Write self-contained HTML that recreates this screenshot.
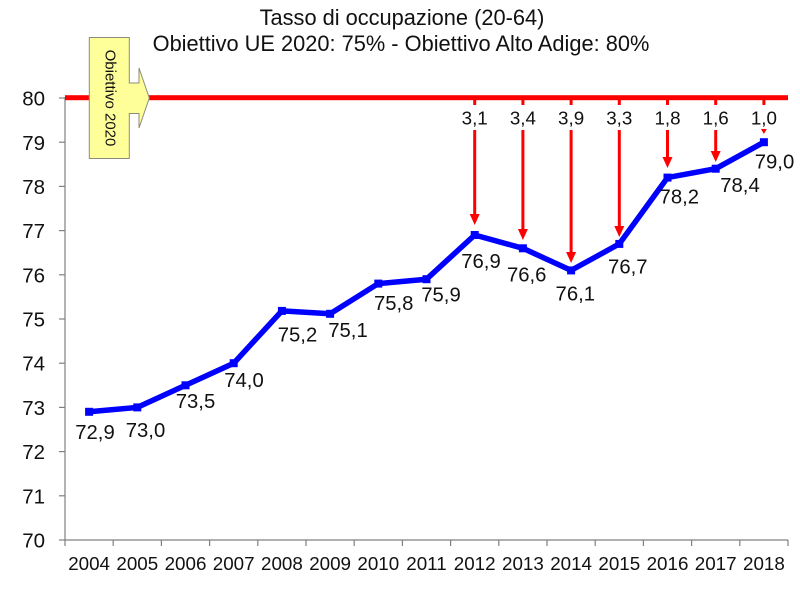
<!DOCTYPE html>
<html>
<head>
<meta charset="utf-8">
<style>
  html,body{margin:0;padding:0;background:#fff;}
  svg{display:block;}
  text{font-family:"Liberation Sans", Arial, sans-serif;fill:#111;}
</style>
</head>
<body>
<svg width="800" height="596" viewBox="0 0 800 596" xmlns="http://www.w3.org/2000/svg">
  <rect width="800" height="596" fill="#fff"/>

  <!-- Title -->
  <text x="402" y="25" font-size="21.8" text-anchor="middle">Tasso di occupazione (20-64)</text>
  <text x="401" y="51" font-size="21.8" text-anchor="middle">Obiettivo UE 2020: 75% - Obiettivo Alto Adige: 80%</text>

  <!-- Axes -->
  <g stroke="#808080" stroke-width="1.2" fill="none">
    <line x1="65" y1="97" x2="65" y2="540"/>
    <line x1="65" y1="540" x2="788" y2="540"/>
    <!-- y ticks -->
    <line x1="59" y1="540" x2="65" y2="540"/>
    <line x1="59" y1="495.8" x2="65" y2="495.8"/>
    <line x1="59" y1="451.6" x2="65" y2="451.6"/>
    <line x1="59" y1="407.4" x2="65" y2="407.4"/>
    <line x1="59" y1="363.2" x2="65" y2="363.2"/>
    <line x1="59" y1="319" x2="65" y2="319"/>
    <line x1="59" y1="274.8" x2="65" y2="274.8"/>
    <line x1="59" y1="230.6" x2="65" y2="230.6"/>
    <line x1="59" y1="186.4" x2="65" y2="186.4"/>
    <line x1="59" y1="142.2" x2="65" y2="142.2"/>
    <line x1="59" y1="98" x2="65" y2="98"/>
    <!-- x ticks -->
    <line x1="65" y1="540" x2="65" y2="546"/>
    <line x1="113.2" y1="540" x2="113.2" y2="546"/>
    <line x1="161.4" y1="540" x2="161.4" y2="546"/>
    <line x1="209.6" y1="540" x2="209.6" y2="546"/>
    <line x1="257.8" y1="540" x2="257.8" y2="546"/>
    <line x1="306" y1="540" x2="306" y2="546"/>
    <line x1="354.2" y1="540" x2="354.2" y2="546"/>
    <line x1="402.4" y1="540" x2="402.4" y2="546"/>
    <line x1="450.6" y1="540" x2="450.6" y2="546"/>
    <line x1="498.8" y1="540" x2="498.8" y2="546"/>
    <line x1="547" y1="540" x2="547" y2="546"/>
    <line x1="595.2" y1="540" x2="595.2" y2="546"/>
    <line x1="643.4" y1="540" x2="643.4" y2="546"/>
    <line x1="691.6" y1="540" x2="691.6" y2="546"/>
    <line x1="739.8" y1="540" x2="739.8" y2="546"/>
    <line x1="788" y1="540" x2="788" y2="546"/>
  </g>

  <!-- Y labels -->
  <g font-size="20.5" text-anchor="end">
    <text x="45" y="547.5">70</text>
    <text x="45" y="503.3">71</text>
    <text x="45" y="459.1">72</text>
    <text x="45" y="414.9">73</text>
    <text x="45" y="370.7">74</text>
    <text x="45" y="326.5">75</text>
    <text x="45" y="282.3">76</text>
    <text x="45" y="238.1">77</text>
    <text x="45" y="193.9">78</text>
    <text x="45" y="150.2">79</text>
    <text x="45" y="105.5">80</text>
  </g>

  <!-- X labels -->
  <g font-size="18.8" text-anchor="middle">
    <text x="89.1" y="570">2004</text>
    <text x="137.3" y="570">2005</text>
    <text x="185.5" y="570">2006</text>
    <text x="233.7" y="570">2007</text>
    <text x="281.9" y="570">2008</text>
    <text x="330.1" y="570">2009</text>
    <text x="378.3" y="570">2010</text>
    <text x="426.5" y="570">2011</text>
    <text x="474.7" y="570">2012</text>
    <text x="522.9" y="570">2013</text>
    <text x="571.1" y="570">2014</text>
    <text x="619.3" y="570">2015</text>
    <text x="667.5" y="570">2016</text>
    <text x="715.7" y="570">2017</text>
    <text x="763.9" y="570">2018</text>
  </g>

  <!-- Red target line -->
  <rect x="65" y="95.2" width="723" height="5" fill="#ff0000"/>
  <!-- red stubs -->
  <g stroke="#ff0000" stroke-width="3">
    <line x1="474.7" y1="99" x2="474.7" y2="105"/>
    <line x1="522.9" y1="99" x2="522.9" y2="105"/>
    <line x1="571.1" y1="99" x2="571.1" y2="105"/>
    <line x1="619.3" y1="99" x2="619.3" y2="105"/>
    <line x1="667.5" y1="99" x2="667.5" y2="105"/>
    <line x1="715.7" y1="99" x2="715.7" y2="105"/>
    <line x1="763.9" y1="99" x2="763.9" y2="105"/>
  </g>
  <!-- gap labels -->
  <g font-size="18.8" text-anchor="middle">
    <text x="474.7" y="124.5">3,1</text>
    <text x="522.9" y="124.5">3,4</text>
    <text x="571.1" y="124.5">3,9</text>
    <text x="619.3" y="124.5">3,3</text>
    <text x="667.5" y="124.5">1,8</text>
    <text x="715.7" y="124.5">1,6</text>
    <text x="763.9" y="124.5">1,0</text>
  </g>
  <!-- red arrows -->
  <g stroke="#ff0000" stroke-width="3">
    <line x1="474.7" y1="130" x2="474.7" y2="216"/>
    <line x1="522.9" y1="130" x2="522.9" y2="231"/>
    <line x1="571.1" y1="130" x2="571.1" y2="254"/>
    <line x1="619.3" y1="130" x2="619.3" y2="228"/>
    <line x1="667.5" y1="130" x2="667.5" y2="159"/>
    <line x1="715.7" y1="130" x2="715.7" y2="153"/>
  </g>
  <g fill="#ff0000">
    <polygon points="469.7,214 479.7,214 474.7,225"/>
    <polygon points="517.9,229 527.9,229 522.9,240"/>
    <polygon points="566.1,252 576.1,252 571.1,263"/>
    <polygon points="614.3,226 624.3,226 619.3,237"/>
    <polygon points="662.5,157 672.5,157 667.5,168"/>
    <polygon points="710.7,151 720.7,151 715.7,162"/>
    <polygon points="761,129 766.8,129 763.9,134"/>
  </g>

  <!-- Callout -->
  <polygon points="89.3,37.5 129.3,37.5 129.3,83 139,83 139,68 149.3,98 139,128 139,113.5 129.3,113.5 129.3,158.5 89.3,158.5"
           fill="#ffff99" stroke="#8c8c7a" stroke-width="1"/>
  <text x="110" y="98" font-size="15" text-anchor="middle" dominant-baseline="central" transform="rotate(90 110 98)">Obiettivo 2020</text>

  <!-- Blue series -->
  <polyline fill="none" stroke="#0000ff" stroke-width="5.5" stroke-linejoin="round"
    points="89.1,411.8 137.3,407.4 185.5,385.3 233.7,363.2 281.9,310.9 330.1,313.8 378.3,283.6 426.5,279.2 474.7,235 522.9,248.3 571.1,270.4 619.3,243.9 667.5,177.6 715.7,168.7 763.9,142.2"/>
  <g fill="#0000ff">
    <rect x="85.1" y="407.8" width="8" height="8"/>
    <rect x="133.3" y="403.4" width="8" height="8"/>
    <rect x="181.5" y="381.3" width="8" height="8"/>
    <rect x="229.7" y="359.2" width="8" height="8"/>
    <rect x="277.9" y="306.9" width="8" height="8"/>
    <rect x="326.1" y="309.8" width="8" height="8"/>
    <rect x="374.3" y="279.6" width="8" height="8"/>
    <rect x="422.5" y="275.2" width="8" height="8"/>
    <rect x="470.7" y="231" width="8" height="8"/>
    <rect x="518.9" y="244.3" width="8" height="8"/>
    <rect x="567.1" y="266.4" width="8" height="8"/>
    <rect x="615.3" y="239.9" width="8" height="8"/>
    <rect x="663.5" y="173.6" width="8" height="8"/>
    <rect x="711.7" y="164.7" width="8" height="8"/>
    <rect x="759.9" y="138.2" width="8" height="8"/>
  </g>

  <!-- Data labels -->
  <g font-size="20.3" text-anchor="middle">
    <text x="95" y="439">72,9</text>
    <text x="145.5" y="437">73,0</text>
    <text x="195.5" y="408">73,5</text>
    <text x="244" y="387">74,0</text>
    <text x="297.5" y="341.5">75,2</text>
    <text x="348" y="337">75,1</text>
    <text x="393.7" y="310">75,8</text>
    <text x="441" y="301.5">75,9</text>
    <text x="481" y="268">76,9</text>
    <text x="526.7" y="281.7">76,6</text>
    <text x="575.3" y="300.7">76,1</text>
    <text x="627.8" y="273.3">76,7</text>
    <text x="679.3" y="203.3">78,2</text>
    <text x="740" y="192">78,4</text>
    <text x="774.5" y="168.3">79,0</text>
  </g>
</svg>
</body>
</html>
